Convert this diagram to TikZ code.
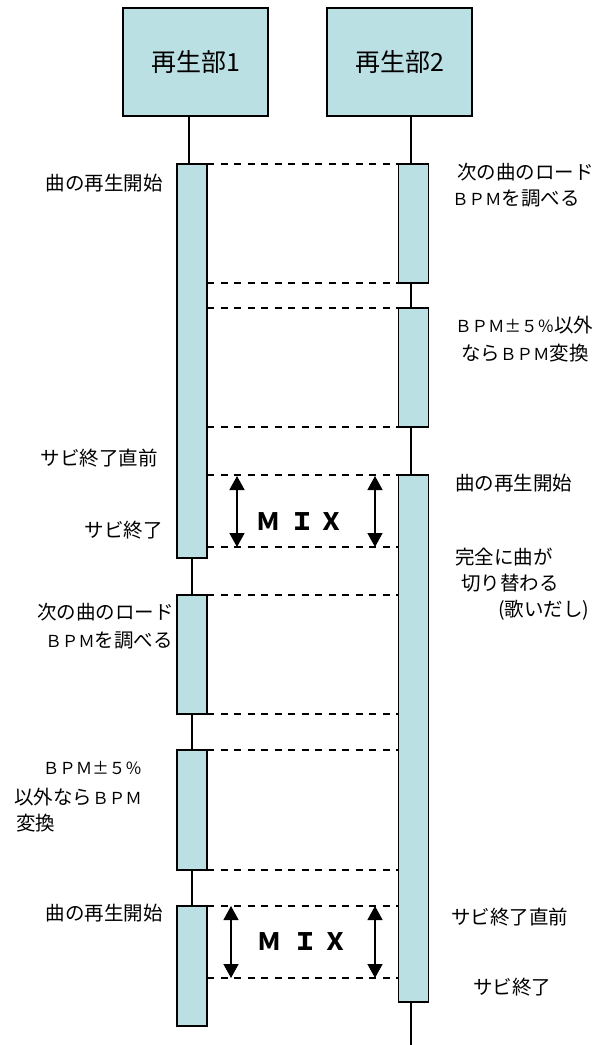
\documentclass[tikz,border=0pt]{standalone}
\usepackage{fontspec}
\setmainfont{Noto Sans CJK JP}
\usetikzlibrary{arrows.meta}
\definecolor{barfill}{HTML}{BBE0E3}
\newcommand\fwl[1]{{\fontsize{16.5}{20}\selectfont #1}}
\begin{document}
\begin{tikzpicture}[x=1pt,y=-1pt,
  headbox/.style={draw=black,line width=1.8pt,fill=barfill,minimum width=145pt,minimum height=108pt,inner sep=0pt,outer sep=0pt,font=\fontsize{25}{30}\selectfont},
  actbar/.style={draw=black,line width=1.5pt,fill=barfill,minimum width=30pt,inner sep=0pt,outer sep=0pt},
  life/.style={line width=1.2pt},
  msg/.style={dash pattern=on 7pt off 6.5pt,line width=1.4pt},
  lbl/.style={font=\fontsize{19.5}{22}\selectfont,inner sep=0pt},
  mixarrow/.style={{Triangle[width=15pt,length=14pt]}-{Triangle[width=15pt,length=14pt]},line width=1.3pt},
  mixtext/.style={font=\fontsize{24}{28}\selectfont\bfseries,inner sep=0pt}]
\useasboundingbox (0,0) rectangle (608,1045);

% header boxes
\node[headbox] (P1) at (195.5,62) {再生部1};
\node[headbox] (P2) at (399.5,62) {再生部2};

% activation bars
\node[actbar,minimum height=394pt] (L1) at (192,361) {};
\node[actbar,minimum height=119pt] (L2) at (192,654.5) {};
\node[actbar,minimum height=120pt] (L3) at (192,810) {};
\node[actbar,minimum height=120pt] (L4) at (192,966) {};
\node[actbar,minimum height=119pt] (R1) at (413.5,223.5) {};
\node[actbar,minimum height=119pt] (R2) at (413.5,367.5) {};
\node[actbar,minimum height=527pt] (R3) at (413.5,738.5) {};

% lifeline helpers
\coordinate (lx1) at (189,0);
\coordinate (lx2) at (411,0);
\coordinate (bottom) at (411,1045);

% lifelines
\draw[life] (lx1 |- P1.south) -- (lx1 |- L1.north);
\draw[life] (L1.south) -- (L2.north);
\draw[life] (L2.south) -- (L3.north);
\draw[life] (L3.south) -- (L4.north);
\draw[life] (lx2 |- P2.south) -- (lx2 |- R1.north);
\draw[life] (lx2 |- R1.south) -- (lx2 |- R2.north);
\draw[life] (lx2 |- R2.south) -- (lx2 |- R3.north);
\draw[life] (lx2 |- R3.south) -- (bottom);

% MIX arrow end points
\coordinate (A1t) at (237,476);
\coordinate (A1b) at (237,547);
\coordinate (B1t) at (375,476);
\coordinate (B1b) at (375,547);
\coordinate (A2t) at (231,906);
\coordinate (A2b) at (231,978);
\coordinate (B2t) at (375,906);
\coordinate (B2b) at (375,978);

% dashed lines
\draw[msg] (L1.north east) -- (R1.north west);
\draw[msg] (R1.south west -| L1.east) -- (R1.south west);
\draw[msg] (R2.north west -| L1.east) -- (R2.north west);
\draw[msg] (R2.south west -| L1.east) -- (R2.south west);
\draw[msg] (R3.north west -| L1.east) -- (R3.north west);
\draw[msg] (A1b -| L1.east) -- (A1b -| R3.west);
\draw[msg] (L2.north east) -- (L2.north east -| R3.west);
\draw[msg] (L2.south east) -- (L2.south east -| R3.west);
\draw[msg] (L3.north east) -- (L3.north east -| R3.west);
\draw[msg] (L3.south east) -- (L3.south east -| R3.west);
\draw[msg] (L4.north east) -- (L4.north east -| R3.west);
\draw[msg] (A2b -| L4.east) -- (A2b -| R3.west);

% MIX arrows
\draw[mixarrow,line width=1.7pt] (A1t) -- (A1b);
\draw[mixarrow] (B1t) -- (B1b);
\draw[mixarrow] (A2t) -- (A2b);
\draw[mixarrow] (B2t) -- (B2b);
\node[mixtext] (mix1) at (300,522) {Ｍ\hspace{11pt}Ｉ\hspace{5pt}Ｘ};
\node[mixtext] (mix2) at (302,942) {Ｍ\hspace{12pt}Ｉ\hspace{6pt}Ｘ};

% right labels
\node[lbl,anchor=west] (r1a) at (457,172) {次の曲のロード};
\node[lbl,anchor=west] (r1b) at (452,198) {\fwl{ＢＰＭ}を調べる};
\node[lbl,anchor=west] (r2a) at (455,325) {\fwl{ＢＰＭ±５％}以外};
\node[lbl,anchor=west] (r2b) at (461,353) {なら\fwl{ＢＰＭ}変換};
\node[lbl,anchor=west] (r3) at (455,483) {曲の再生開始};
\node[lbl,anchor=west] (r4a) at (455,557) {完全に曲が};
\node[lbl,anchor=west] (r4b) at (461,583) {切り替わる};
\node[lbl,anchor=west] (r4c) at (498,610) {(歌いだし)};
\node[lbl,anchor=west] (r5) at (451,917) {サビ終了直前};
\node[lbl,anchor=west] (r6) at (473,987) {サビ終了};

% left labels
\node[lbl,anchor=east] (l1) at (163,183) {曲の再生開始};
\node[lbl,anchor=east] (l2) at (158,458) {サビ終了直前};
\node[lbl,anchor=east] (l3) at (163,530) {サビ終了};
\node[lbl,anchor=east] (l4a) at (174,612) {次の曲のロード};
\node[lbl,anchor=east] (l4b) at (173,640) {\fwl{ＢＰＭ}を調べる};
\node[lbl,anchor=east] (l5a) at (142,768) {\fwl{ＢＰＭ±５％}};
\node[lbl,anchor=east] (l5b) at (142,797) {以外なら\fwl{ＢＰＭ}};
\node[lbl,anchor=west] (l5c) at (16,823) {変換};
\node[lbl,anchor=east] (l6) at (163,913) {曲の再生開始};
\end{tikzpicture}
\end{document}
